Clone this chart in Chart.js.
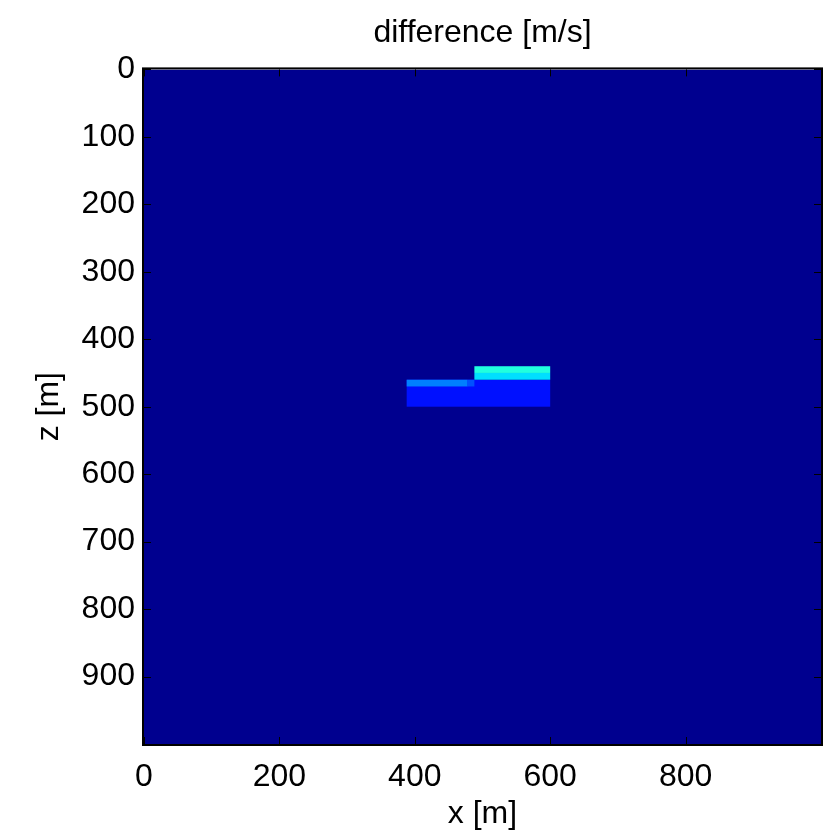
<!DOCTYPE html>
<html>
<head>
<meta charset="utf-8">
<script src="https://cdn.jsdelivr.net/npm/chart.js@4"></script>
<style>
  html, body { margin: 0; padding: 0; background: #fff; }
  #wrap { width: 832px; height: 834px; }
</style>
</head>
<body>
<div id="wrap"><canvas id="myChart"></canvas></div>
<script>
// patches of the difference model, drawn in order (background first)
var cellX0 = [0, 388, 488, 488, 388, 478];
var cellX1 = [1000, 600, 600, 600, 478, 488];
var cellZ0 = [0, 460, 440, 450, 460, 460];
var cellZ1 = [1000, 500, 450, 460, 470, 470];
var cellValues = [0, 80, 250, 210, 150, 120];
var colorLimits = [0, 630];

var xTicks = [0, 200, 400, 600, 800];
var zTicks = [0, 100, 200, 300, 400, 500, 600, 700, 800, 900];

const FONT = "'Liberation Sans', Arial, Helvetica, sans-serif";

// matlab jet(64)
const jet = (v) => {
    let t = (v - colorLimits[0]) / (colorLimits[1] - colorLimits[0]);
    t = Math.min(1, Math.max(0, t));
    const k = Math.round(t * 63) + 1;
    const u = (j) => {
        if (j < 1 || j > 47) return 0;
        if (j <= 16) return j / 16;
        if (j <= 31) return 1;
        return (48 - j) / 16;
    };
    const r = u(k - 24), g = u(k - 8), b = u(k + 8);
    return `rgb(${Math.round(r*255)},${Math.round(g*255)},${Math.round(b*255)})`;
}

const cellsPlugin = {
    id: 'cells',
    beforeDatasetsDraw(chart) {
        const {ctx, chartArea, scales} = chart;
        ctx.save();
        ctx.beginPath();
        ctx.rect(chartArea.left, chartArea.top, chartArea.width, chartArea.height);
        ctx.clip();
        for (let i = 0; i < cellValues.length; i++) {
            const xa = scales.x.getPixelForValue(cellX0[i]);
            const xb = scales.x.getPixelForValue(cellX1[i]);
            const ya = scales.y.getPixelForValue(cellZ0[i]);
            const yb = scales.y.getPixelForValue(cellZ1[i]);
            ctx.fillStyle = jet(cellValues[i]);
            ctx.fillRect(Math.min(xa, xb), Math.min(ya, yb), Math.abs(xb - xa), Math.abs(yb - ya));
        }
        ctx.restore();
    },
    afterDraw(chart) {
        const {ctx, chartArea, scales} = chart;
        ctx.save();
        ctx.strokeStyle = '#000';
        ctx.lineWidth = 1;
        // inward tick marks like matlab
        const len = 7;
        ctx.beginPath();
        for (const v of xTicks) {
            const px = Math.round(scales.x.getPixelForValue(v)) + 0.5;
            ctx.moveTo(px, chartArea.bottom); ctx.lineTo(px, chartArea.bottom - len);
            ctx.moveTo(px, chartArea.top); ctx.lineTo(px, chartArea.top + len);
        }
        for (const v of zTicks) {
            const py = Math.round(scales.y.getPixelForValue(v)) + 0.5;
            ctx.moveTo(chartArea.left, py); ctx.lineTo(chartArea.left + len, py);
            ctx.moveTo(chartArea.right, py); ctx.lineTo(chartArea.right - len, py);
        }
        ctx.stroke();
        ctx.lineWidth = 2;
        ctx.strokeRect(chartArea.left - 1, chartArea.top - 1, chartArea.width + 2, chartArea.height + 2);
        ctx.restore();
    }
};

new Chart("myChart", {
    type: "scatter",
    data: { datasets: [{ data: [] }] },
    plugins: [cellsPlugin],
    options: {
        responsive: true,
        maintainAspectRatio: false,
        animation: false,
        layout: { padding: { left: 0, right: 11, top: 0, bottom: 0 } },
        plugins: {
            legend: { display: false },
            tooltip: { enabled: false },
            title: {
                display: true,
                fullSize: false,
                text: "difference [m/s]",
                color: '#000',
                font: { family: FONT, size: 32, weight: 'normal' },
                padding: { top: 14, bottom: 17 }
            }
        },
        scales: {
            x: {
                type: 'linear',
                min: 0, max: 1000,
                grid: { display: false },
                border: { display: false },
                afterBuildTicks: (s) => { s.ticks = xTicks.map(v => ({ value: v })); },
                afterFit: (s) => { s.height = 90; },
                ticks: { color: '#000', padding: 6, maxRotation: 0, font: { family: FONT, size: 32 } },
                title: { display: true, text: 'x [m]', color: '#000', padding: { top: 0, bottom: 1 }, font: { family: FONT, size: 32 } }
            },
            y: {
                type: 'linear',
                reverse: true,
                min: 0, max: 1000,
                grid: { display: false },
                border: { display: false },
                afterBuildTicks: (s) => { s.ticks = zTicks.map(v => ({ value: v })); },
                afterFit: (s) => { s.width = 144; },
                ticks: { color: '#000', padding: 1, font: { family: FONT, size: 32 } },
                title: { display: true, text: 'z [m]', color: '#000', padding: { top: 30, bottom: 0 }, font: { family: FONT, size: 32 } }
            }
        }
    }
});
</script>
</body>
</html>
